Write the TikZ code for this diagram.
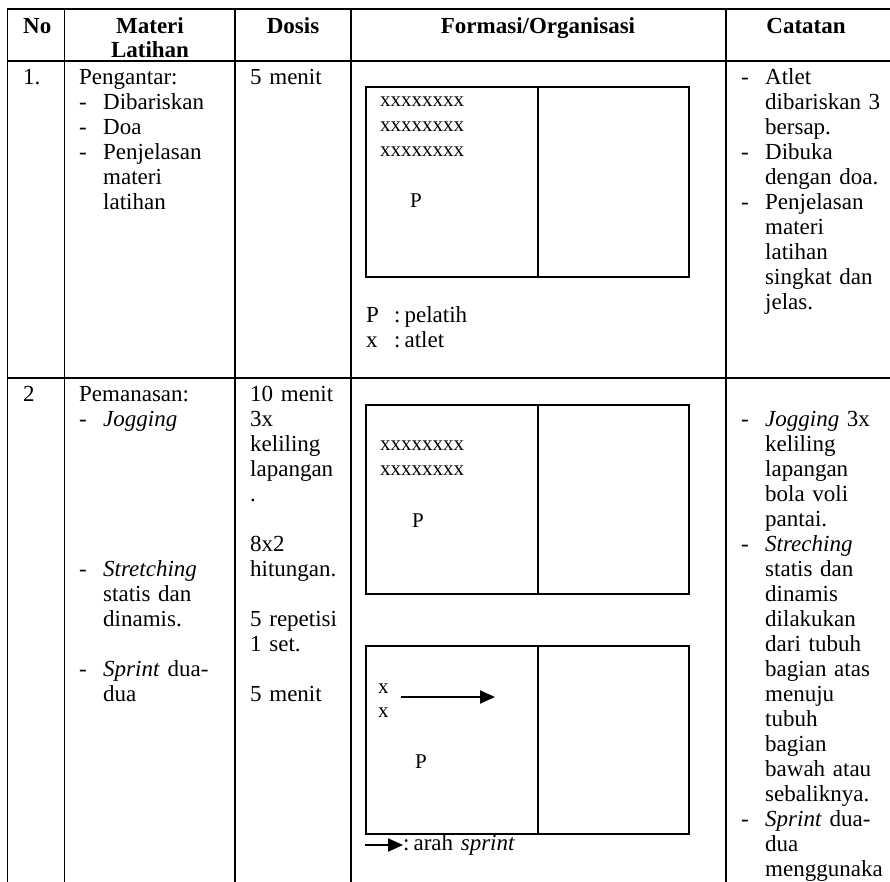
\documentclass[tikz,border=0pt]{standalone}
\usepackage{fontspec}
\setmainfont{Liberation Serif}
\usetikzlibrary{arrows.meta}
\newcommand{\dsh}{\makebox[24pt][l]{-}}
\newcommand{\hng}{\hspace*{24pt}}
\begin{document}
\begin{tikzpicture}[x=1pt,y=-1pt,
  rule/.style={line width=1.8pt,line cap=rect},
  field/.style={line width=1.8pt},
  cell/.style={anchor=base west,inner sep=0pt,text width=200pt,align=left,font=\fontsize{23}{25}\selectfont},
  head/.style={anchor=base,inner sep=0pt,text width=200pt,align=center,font=\fontsize{23}{24}\selectfont\bfseries},
  athl/.style={anchor=base west,inner sep=0pt,font=\fontsize{21}{25}\selectfont},
  sprintarrow/.style={line width=2pt,-{Triangle[length=15pt,width=13pt]}}]
\useasboundingbox (0,0) rectangle (890,881);
\clip (0,0) rectangle (890,881);
% table rules
\foreach \y in {9.3,61,377.7} \draw[rule] (7.5,\y) -- (895,\y);
\foreach \x in {7.5,64.4,235,351,725.7} \draw[rule] (\x,9.3) -- (\x,890);
% header
\node[cell,font=\fontsize{23}{25}\selectfont\bfseries] (hno) at (23,33) {No};
\node[head] (hmat) at (150,33) {Materi\\Latihan};
\node[head] (hdos) at (293,33) {Dosis};
\node[head] (hfor) at (538,33) {Formasi/Organisasi};
\node[head] (hcat) at (806,33) {Catatan};
% row 1
\node[cell] (n1) at (23,84) {1.};
\node[cell] (m1) at (79,84) {Pengantar:\\\dsh Dibariskan\\\dsh Doa\\\dsh Penjelasan\\\hng materi\\\hng latihan};
\node[cell] (d1) at (250,84) {5 menit};
\node[cell] (c1) at (741,84) {\dsh Atlet\\\hng dibariskan 3\\\hng bersap.\\\dsh Dibuka\\\hng dengan doa.\\\dsh Penjelasan\\\hng materi\\\hng latihan\\\hng singkat dan\\\hng jelas.};
% row 2
\node[cell] (n2) at (23,401) {2};
\node[cell] (m2) at (79,401) {Pemanasan:\\\dsh\textit{Jogging}\\[125pt]\dsh\textit{Stretching}\\\hng statis dan\\\hng dinamis.\\[25pt]\dsh\textit{Sprint} dua-\\\hng dua};
\node[cell] (d2) at (250,401) {10 menit\\3x\\keliling\\lapangan\\.\\[25pt]8x2\\hitungan.\\[25pt]5 repetisi\\1 set.\\[25pt]5 menit};
\node[cell] (c2) at (741,426) {\dsh\textit{Jogging} 3x\\\hng keliling\\\hng lapangan\\\hng bola voli\\\hng pantai.\\\dsh\textit{Streching}\\\hng statis dan\\\hng dinamis\\\hng dilakukan\\\hng dari tubuh\\\hng bagian atas\\\hng menuju\\\hng tubuh\\\hng bagian\\\hng bawah atau\\\hng sebaliknya.\\\dsh\textit{Sprint} dua-\\\hng dua\\\hng menggunaka};
% formation fields
\foreach \t/\b in {87.3/276.7,405/594,646/834} {
  \draw[field] (366,\t) rectangle (689,\b);
  \draw[field] (538,\t) -- (538,\b);
}
\foreach \y [count=\i] in {106,131,156} \node[athl] (fa\i) at (380,\y) {xxxxxxxx};
\node[athl] (fp1) at (410,207) {P};
\foreach \y [count=\i] in {450,475} \node[athl] (fb\i) at (380,\y) {xxxxxxxx};
\node[athl] (fp2) at (412,527) {P};
\foreach \y [count=\i] in {693,717} \node[athl] (fc\i) at (378,\y) {x};
\node[athl] (fp3) at (415,768) {P};
\coordinate (s1) at (401,697);
\coordinate (s2) at (495,697);
\draw[sprintarrow] (s1) -- (s2);
% legends
\node[cell] (lp) at (366,322) {P};
\node[cell] (lpt) at (394,322) {:\hspace{4pt}pelatih};
\node[cell] (lx) at (366,347) {x};
\node[cell] (lxt) at (394,347) {:\hspace{4pt}atlet};
\coordinate (l1) at (365,845);
\coordinate (l2) at (403,845);
\draw[sprintarrow] (l1) -- (l2);
\node[cell] (lst) at (403,850) {:\hspace{4pt}arah \textit{sprint}};
\end{tikzpicture}
\end{document}
